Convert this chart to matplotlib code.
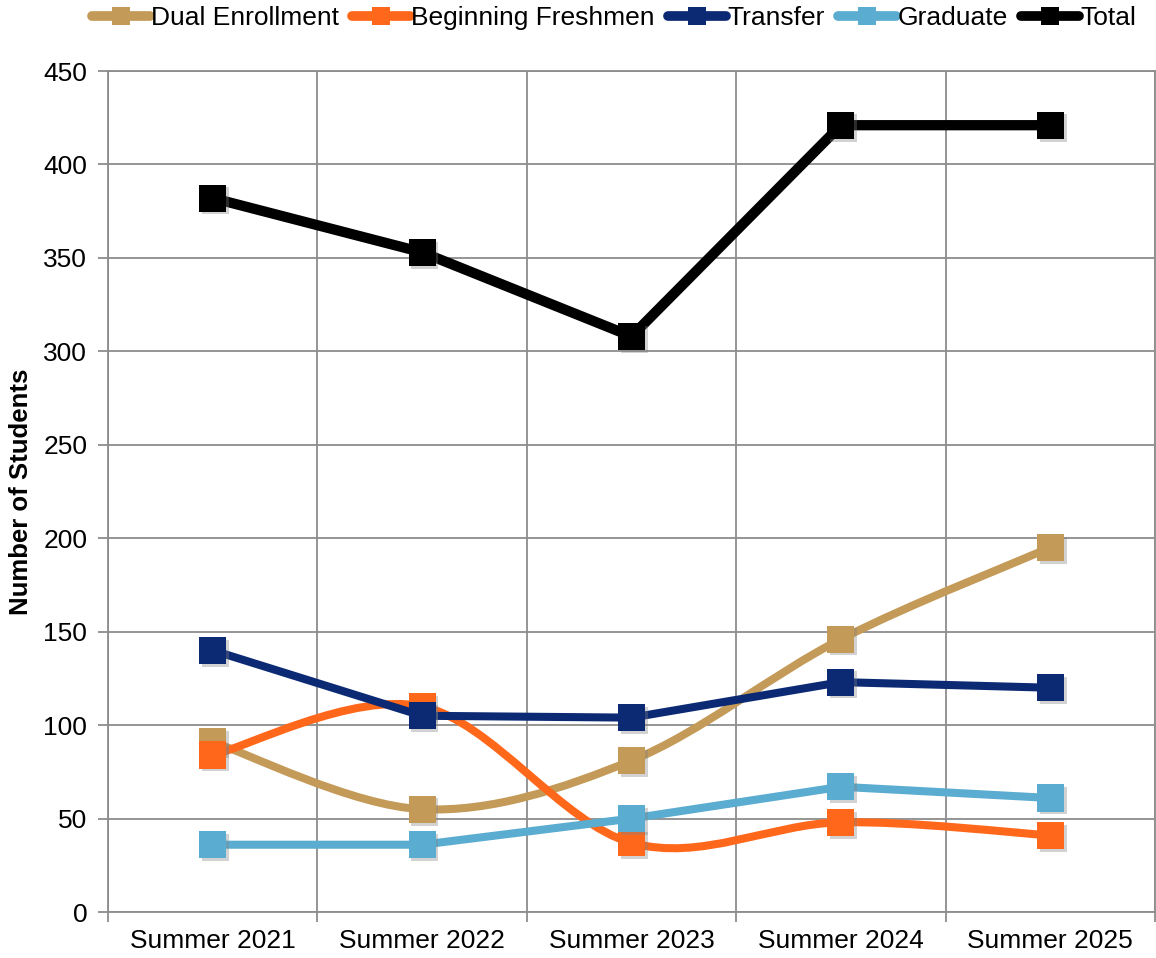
import matplotlib
matplotlib.use("Agg")
import matplotlib.pyplot as plt
import numpy as np
from matplotlib.path import Path
from matplotlib.patches import PathPatch
from matplotlib.lines import Line2D
import matplotlib.patheffects as pe

plt.rcParams['font.family'] = ['Liberation Sans', 'DejaVu Sans']

categories = ["Summer 2021", "Summer 2022", "Summer 2023", "Summer 2024", "Summer 2025"]
dual = [91, 55, 81, 146, 195]
freshmen = [84, 110, 37, 48, 41]
transfer = [140, 105, 104, 123, 120]
graduate = [36, 36, 50, 67, 61]
total = [382, 353, 308, 421, 421]

series = [
    ("Dual Enrollment", dual, "#C49A58", True, 5.8),
    ("Beginning Freshmen", freshmen, "#FF671B", True, 5.8),
    ("Transfer", transfer, "#0C2A74", False, 5.8),
    ("Graduate", graduate, "#5AACD0", False, 5.8),
    ("Total", total, "#000000", False, 7.4),
]

fig = plt.figure(figsize=(11.56, 9.58), dpi=100)
ax = fig.add_axes([108/1156, 1-912/958, (1155-108)/1156, (912-71)/958])

x = np.arange(len(categories))
shadow = [pe.SimplePatchShadow(offset=(2, -2), alpha=0.35, shadow_rgbFace='gray'), pe.Normal()]


def smooth_path(xs, ys):
    pts = np.column_stack([xs, ys]).astype(float)
    n = len(pts)
    verts = [pts[0]]
    codes = [Path.MOVETO]
    for i in range(n - 1):
        p0 = pts[i - 1] if i > 0 else pts[i]
        p1 = pts[i]
        p2 = pts[i + 1]
        p3 = pts[i + 2] if i + 2 < n else pts[i + 1]
        c1 = p1 + (p2 - p0) / 6.0
        c2 = p2 - (p3 - p1) / 6.0
        verts += [c1, c2, p2]
        codes += [Path.CURVE4] * 3
    return Path(verts, codes)


for name, vals, color, smooth, lw in series:
    if smooth:
        patch = PathPatch(smooth_path(x, vals), fill=False, edgecolor=color, lw=lw,
                          capstyle='round', joinstyle='round', zorder=3)
        ax.add_patch(patch)
    else:
        ax.plot(x, vals, color=color, lw=lw, solid_capstyle='round',
                solid_joinstyle='round', zorder=3)
    ax.plot(x, vals, linestyle='none', marker='s', markersize=19.5, color=color,
            markeredgewidth=0, zorder=4, path_effects=shadow)

ax.set_xlim(-0.5, len(categories) - 0.5)
ax.set_ylim(0, 450)
ax.set_yticks(np.arange(0, 451, 50))
ax.set_xticks(x)
ax.set_xticklabels(categories)
ax.set_xticks(np.arange(-0.5, len(categories), 1.0), minor=True)

gc = "#8C8C8C"
ax.grid(axis='y', which='major', color=gc, lw=1.3)
ax.grid(axis='x', which='minor', color=gc, lw=1.3)
ax.grid(axis='x', which='major', visible=False)
ax.set_axisbelow(True)
for s in ax.spines.values():
    s.set_color(gc)
    s.set_linewidth(1.3)

ax.tick_params(axis='x', which='major', length=0, pad=12, labelsize=19)
ax.tick_params(axis='x', which='minor', length=7, color=gc, width=1.3)
ax.tick_params(axis='y', length=7, color=gc, width=1.3, pad=8, labelsize=19)

ax.set_ylabel("Number of Students", fontsize=18.5, fontweight='bold', labelpad=7)

handles = [Line2D([0], [0], color=c, lw=7, marker='s', markersize=13,
                  solid_capstyle='round', markeredgewidth=0)
           for name, v, c, s, lw in series]
labels = [s[0] for s in series]
fig.legend(handles, labels, loc='center', bbox_to_anchor=(0.531, 1-18/958), ncol=5,
           frameon=False, fontsize=19, handlelength=2.2, handletextpad=0.05,
           columnspacing=0.5, borderaxespad=0)

fig.savefig("out.png", dpi=100)
